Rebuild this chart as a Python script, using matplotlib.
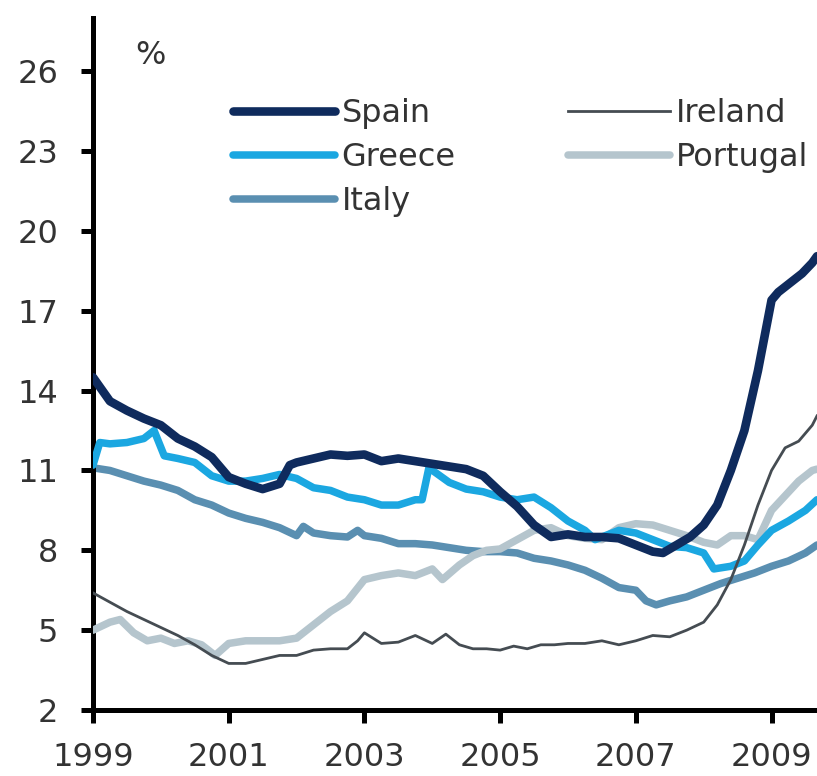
#!/usr/bin/env python3
"""Unemployment rates in the euro periphery, 1999-2009."""
import matplotlib
matplotlib.use('Agg')
import matplotlib.pyplot as plt

# readings from the chart (year, %)
spain_x = [1999.0, 1999.25, 1999.5, 1999.75, 2000.0, 2000.25, 2000.5, 2000.75,
           2001.0, 2001.25, 2001.5, 2001.75, 2001.9, 2002.0, 2002.25, 2002.5,
           2002.75, 2003.0, 2003.25, 2003.5, 2003.75, 2004.0, 2004.25, 2004.5,
           2004.75, 2005.0, 2005.25, 2005.5, 2005.75, 2006.0, 2006.25, 2006.5,
           2006.75, 2007.0, 2007.25, 2007.4, 2007.6, 2007.8, 2008.0, 2008.2,
           2008.4, 2008.6, 2008.8, 2009.0, 2009.1, 2009.25, 2009.45, 2009.6, 2009.67]
spain_y = [14.5, 13.6, 13.25, 12.95, 12.7, 12.2, 11.9, 11.5,
           10.75, 10.5, 10.3, 10.5, 11.2, 11.3, 11.45, 11.6,
           11.55, 11.6, 11.35, 11.45, 11.35, 11.25, 11.15, 11.05,
           10.8, 10.2, 9.65, 8.95, 8.5, 8.6, 8.5, 8.5,
           8.45, 8.2, 7.95, 7.9, 8.2, 8.5, 8.95, 9.7,
           11.0, 12.5, 14.75, 17.4, 17.7, 18.0, 18.4, 18.8, 19.05]

greece_x = [1999.0, 1999.1, 1999.25, 1999.5, 1999.75, 1999.9, 2000.05, 2000.25,
            2000.5, 2000.75, 2001.0, 2001.25, 2001.5, 2001.75, 2002.0, 2002.25,
            2002.5, 2002.75, 2003.0, 2003.25, 2003.5, 2003.75, 2003.85, 2003.95,
            2004.25, 2004.5, 2004.75, 2005.0, 2005.25, 2005.5, 2005.75, 2006.0,
            2006.25, 2006.4, 2006.6, 2006.75, 2007.0, 2007.25, 2007.5, 2007.75,
            2008.0, 2008.15, 2008.4, 2008.6, 2008.8, 2009.0, 2009.25, 2009.5, 2009.67]
greece_y = [11.2, 12.05, 12.0, 12.05, 12.2, 12.5, 11.55, 11.45,
            11.3, 10.8, 10.6, 10.6, 10.7, 10.85, 10.7, 10.35,
            10.25, 10.0, 9.9, 9.7, 9.7, 9.9, 9.9, 11.1,
            10.55, 10.3, 10.2, 10.0, 9.9, 10.0, 9.6, 9.1,
            8.75, 8.4, 8.6, 8.75, 8.65, 8.4, 8.15, 8.1,
            7.9, 7.3, 7.4, 7.6, 8.2, 8.75, 9.1, 9.5, 9.9]

italy_x = [1999.0, 1999.25, 1999.5, 1999.75, 2000.0, 2000.25, 2000.5, 2000.75,
           2001.0, 2001.25, 2001.5, 2001.75, 2002.0, 2002.1, 2002.25, 2002.5,
           2002.75, 2002.9, 2003.0, 2003.25, 2003.5, 2003.75, 2004.0, 2004.25,
           2004.5, 2004.75, 2005.0, 2005.25, 2005.5, 2005.75, 2006.0, 2006.25,
           2006.5, 2006.75, 2007.0, 2007.15, 2007.3, 2007.5, 2007.75, 2008.0,
           2008.25, 2008.5, 2008.75, 2009.0, 2009.25, 2009.5, 2009.67]
italy_y = [11.1, 11.0, 10.8, 10.6, 10.45, 10.25, 9.9, 9.7,
           9.4, 9.2, 9.05, 8.85, 8.55, 8.9, 8.65, 8.55,
           8.5, 8.75, 8.55, 8.45, 8.25, 8.25, 8.2, 8.1,
           8.0, 7.95, 7.95, 7.9, 7.7, 7.6, 7.45, 7.25,
           6.95, 6.6, 6.5, 6.1, 5.95, 6.1, 6.25, 6.5,
           6.75, 6.95, 7.15, 7.4, 7.6, 7.9, 8.2]

ireland_x = [1999.0, 1999.25, 1999.5, 1999.75, 2000.0, 2000.25, 2000.5, 2000.75,
             2001.0, 2001.25, 2001.5, 2001.75, 2002.0, 2002.25, 2002.5, 2002.75,
             2002.9, 2003.0, 2003.25, 2003.5, 2003.75, 2004.0, 2004.2, 2004.4,
             2004.6, 2004.8, 2005.0, 2005.2, 2005.4, 2005.6, 2005.8, 2006.0,
             2006.25, 2006.5, 2006.75, 2007.0, 2007.25, 2007.5, 2007.75, 2008.0,
             2008.2, 2008.4, 2008.6, 2008.8, 2009.0, 2009.2, 2009.4, 2009.6, 2009.67]
ireland_y = [6.4, 6.05, 5.7, 5.4, 5.1, 4.8, 4.45, 4.05,
             3.75, 3.75, 3.9, 4.05, 4.05, 4.25, 4.3, 4.3,
             4.6, 4.9, 4.5, 4.55, 4.8, 4.5, 4.85, 4.45,
             4.3, 4.3, 4.25, 4.4, 4.3, 4.45, 4.45, 4.5,
             4.5, 4.6, 4.45, 4.6, 4.8, 4.75, 5.0, 5.3,
             5.95, 6.9, 8.2, 9.7, 11.0, 11.85, 12.1, 12.7, 13.05]

portugal_x = [1999.0, 1999.25, 1999.4, 1999.6, 1999.8, 2000.0, 2000.2, 2000.4,
              2000.6, 2000.8, 2001.0, 2001.25, 2001.5, 2001.75, 2002.0, 2002.25,
              2002.5, 2002.75, 2003.0, 2003.25, 2003.5, 2003.75, 2004.0, 2004.15,
              2004.4, 2004.6, 2004.8, 2005.0, 2005.25, 2005.5, 2005.75, 2006.0,
              2006.25, 2006.5, 2006.75, 2007.0, 2007.25, 2007.5, 2007.75, 2008.0,
              2008.2, 2008.4, 2008.6, 2008.8, 2009.0, 2009.2, 2009.4, 2009.6, 2009.67]
portugal_y = [5.0, 5.3, 5.4, 4.9, 4.6, 4.7, 4.5, 4.6,
              4.45, 4.05, 4.5, 4.6, 4.6, 4.6, 4.7, 5.2,
              5.7, 6.1, 6.9, 7.05, 7.15, 7.05, 7.3, 6.9,
              7.45, 7.8, 8.0, 8.05, 8.4, 8.75, 8.85, 8.55,
              8.45, 8.4, 8.85, 9.0, 8.95, 8.75, 8.55, 8.3,
              8.2, 8.55, 8.55, 8.4, 9.5, 10.05, 10.6, 11.0, 11.05]

y_ticks = [2, 5, 8, 11, 14, 17, 20, 23, 26]
x_ticks = [1999, 2001, 2003, 2005, 2007, 2009]

plt.rcParams['font.family'] = ['DejaVu Sans']
TXT = '#333333'
FS = 23

fig = plt.figure(figsize=(8.17, 7.76), dpi=100)
ax = fig.add_axes([93 / 817, 1 - 710 / 776, 1 - 93 / 817, (710 - 18) / 776])

ax.plot(italy_x, italy_y, color='#5a8fb1', lw=5.4, label='Italy', zorder=2,
        solid_capstyle='round')
ax.plot(portugal_x, portugal_y, color='#b5c5cd', lw=5.4, label='Portugal', zorder=3,
        solid_capstyle='round')
ax.plot(greece_x, greece_y, color='#1ba7e1', lw=5.4, label='Greece', zorder=4,
        solid_capstyle='round')
ax.plot(spain_x, spain_y, color='#0f2b5d', lw=6.2, label='Spain', zorder=5,
        solid_capstyle='round')
ax.plot(ireland_x, ireland_y, color='#454c52', lw=2, label='Ireland', zorder=6)

ax.set_xlim(1999, 2009.67)
ax.set_ylim(2, 28)
ax.set_yticks(y_ticks)
ax.set_xticks(x_ticks)
for s in ('top', 'right'):
    ax.spines[s].set_visible(False)
for s in ('left', 'bottom'):
    ax.spines[s].set_linewidth(3.6)
ax.tick_params(axis='both', direction='out', length=9, width=3.6,
               labelsize=FS, labelcolor=TXT)
ax.tick_params(axis='y', pad=16)
ax.tick_params(axis='x', pad=14)

ax.text(135 / 817, 1 - 55 / 776, '%', transform=fig.transFigure, fontsize=FS,
        color=TXT, va='center', ha='left')

h, l = ax.get_legend_handles_labels()
order = ['Spain', 'Greece', 'Italy', 'Ireland', 'Portugal']
hh = [h[l.index(n)] for n in order]
fig.legend(hh, order, loc='upper left', bbox_to_anchor=(233 / 817, 1 - 98 / 776),
           ncol=2, frameon=False, fontsize=FS, labelcolor=TXT, borderpad=0,
           handlelength=3.2, handletextpad=0.2, labelspacing=0.41,
           columnspacing=3.5, borderaxespad=0)

fig.savefig('out.png', dpi=100)
